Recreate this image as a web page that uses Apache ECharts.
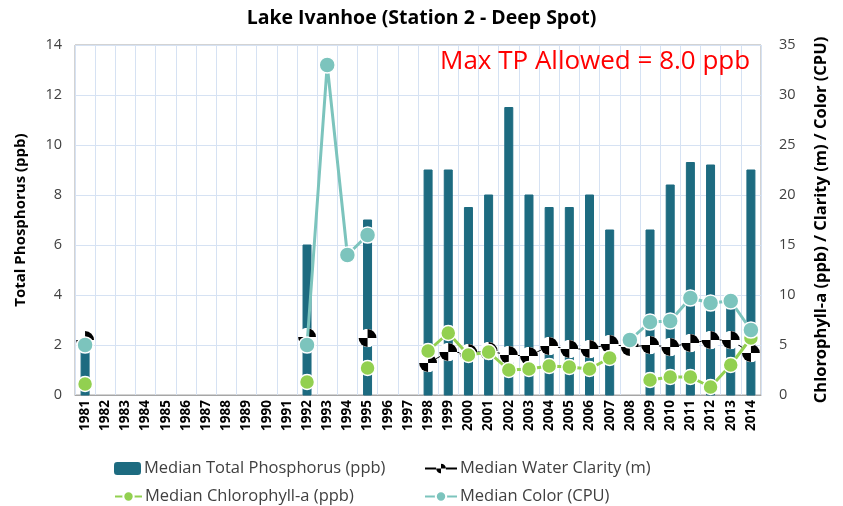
<!DOCTYPE html>
<html>
<head>
<meta charset="utf-8">
<script src="https://cdn.jsdelivr.net/npm/echarts@6/dist/echarts.min.js"></script>
<style>html,body{margin:0;padding:0;background:#fff}#c{width:843px;height:506px}</style>
</head>
<body>
<div id="c"></div>
<script>
var years = ['1981','1982','1983','1984','1985','1986','1987','1988','1989','1990','1991','1992','1993','1994','1995','1996','1997','1998','1999','2000','2001','2002','2003','2004','2005','2006','2007','2008','2009','2010','2011','2012','2013','2014'];
var tp = [2.0,null,null,null,null,null,null,null,null,null,null,6.0,null,null,7.0,null,null,9.0,9.0,7.5,8.0,11.5,8.0,7.5,7.5,8.0,6.6,null,6.6,8.4,9.3,9.2,3.8,9.0];
var clarity = [5.5,null,null,null,null,null,null,null,null,null,null,5.8,null,null,5.7,null,null,3.2,4.3,4.2,4.4,4.0,3.9,4.9,4.6,4.6,5.1,4.8,5.0,4.8,5.2,5.5,5.5,4.2];
var chl = [1.1,null,null,null,null,null,null,null,null,null,null,1.3,null,null,2.7,null,null,4.4,6.2,4.0,4.3,2.5,2.6,2.9,2.8,2.6,3.7,null,1.5,1.8,1.8,0.8,3.0,5.7];
var color = [5.0,null,null,null,null,null,null,null,null,null,null,5.0,33,14,16,null,null,null,null,null,null,null,null,null,null,null,null,5.5,7.3,7.4,9.7,9.2,9.4,6.5];
var leftTicks = {min:0, max:14, interval:2};
var rightTicks = {min:0, max:35, interval:5};

var FONT = '"Open Sans", "Noto Sans", sans-serif';
var svg = "<svg xmlns='http://www.w3.org/2000/svg' width='32' height='32'><circle cx='16' cy='16' r='15.5' fill='white'/><path d='M16 16 L16 1 A15 15 0 0 1 31 16 Z' fill='black'/><path d='M16 16 L16 31 A15 15 0 0 1 1 16 Z' fill='black'/></svg>";
var claritySym = 'image://data:image/svg+xml;charset=utf-8,' + encodeURIComponent(svg);

var chart = echarts.init(document.getElementById('c'), null, {renderer:'canvas'});
var legendText = {fontFamily: FONT, fontSize: 16.5, color: '#404040', padding: [0,0,0,-2]};
chart.setOption({
  animation: false,
  textStyle: {fontFamily: FONT},
  title: {text: 'Lake Ivanhoe (Station 2 - Deep Spot)', left: 'center', top: 3,
    textStyle: {fontFamily: FONT, fontSize: 19.5, fontWeight: 'bold', color: '#000'}},
  graphic: [{type:'text', left: 440, top: 49, z: 100, zlevel: 1, style: {text: 'Max TP Allowed = 8.0 ppb', fill: '#FF0000', font: '26px ' + FONT}}],
  legend: [
    {data:['Median Total Phosphorus (ppb)'], left: 109, top: 455, itemWidth: 27, itemHeight: 13, textStyle: legendText},
    {data:['Median Water Clarity (m)'], left: 419, top: 455, itemWidth: 32, itemHeight: 13, textStyle: legendText},
    {data:['Median Chlorophyll-a (ppb)'], left: 109, top: 483, itemWidth: 27, itemHeight: 13, textStyle: legendText},
    {data:['Median Color (CPU)'], left: 419, top: 483, itemWidth: 32, itemHeight: 13, textStyle: legendText}
  ],
  grid: {left: 75, right: 82, top: 45, bottom: 111, show: true, borderColor: '#A6A6A6', borderWidth: 1, containLabel: false},
  xAxis: {type: 'category', data: years, boundaryGap: true,
    axisLine: {lineStyle: {color: '#A6A6A6'}},
    axisTick: {show: false},
    splitLine: {show: true, lineStyle: {color: '#D6E2F3', width: 1}},
    axisLabel: {rotate: 90, interval: 0, fontFamily: FONT, fontSize: 13.5, fontWeight: 'bold', color: '#000', margin: 5}
  },
  yAxis: [
    {type: 'value', min: leftTicks.min, max: leftTicks.max, interval: leftTicks.interval,
      name: 'Total Phosphorus (ppb)', nameLocation: 'middle', nameGap: 47,
      nameTextStyle: {fontFamily: FONT, fontSize: 15, fontWeight: 'bold', color: '#000'},
      axisLine: {show: false}, axisTick: {show: false},
      splitLine: {show: true, lineStyle: {color: '#D6E2F3'}},
      axisLabel: {fontFamily: FONT, fontSize: 14.5, color: '#404040', margin: 13}},
    {type: 'value', min: rightTicks.min, max: rightTicks.max, interval: rightTicks.interval,
      name: 'Chlorophyll-a (ppb) / Clarity (m) / Color (CPU)', nameLocation: 'middle', nameGap: 52, nameRotate: 90,
      nameTextStyle: {fontFamily: FONT, fontSize: 16.5, fontWeight: 'bold', color: '#000'},
      axisLine: {show: false}, axisTick: {show: false}, splitLine: {show: false},
      axisLabel: {fontFamily: FONT, fontSize: 14.5, color: '#404040', margin: 18}}
  ],
  series: [
    {name: 'Median Total Phosphorus (ppb)', type: 'bar', data: tp, yAxisIndex: 0, barWidth: 8,
      itemStyle: {color: '#1D6B80', borderColor: '#1D6B80'}, z: 2},
    {name: 'Median Water Clarity (m)', type: 'line', data: clarity, yAxisIndex: 1, connectNulls: false,
      symbol: claritySym, symbolSize: 19, showAllSymbol: true,
      lineStyle: {color: '#000', width: 1, shadowColor: '#fff', shadowBlur: 4},
      itemStyle: {color: '#000'}, z: 3},
    {name: 'Median Chlorophyll-a (ppb)', type: 'line', data: chl, yAxisIndex: 1, connectNulls: false,
      symbol: 'circle', symbolSize: 15, showAllSymbol: true,
      lineStyle: {color: '#92D050', width: 3},
      itemStyle: {color: '#92D050', borderColor: '#fff', borderWidth: 1.5}, z: 4},
    {name: 'Median Color (CPU)', type: 'line', data: color, yAxisIndex: 1, connectNulls: false,
      symbol: 'circle', symbolSize: 16, showAllSymbol: true,
      lineStyle: {color: '#7CC4BD', width: 3},
      itemStyle: {color: '#7CC4BD', borderColor: '#fff', borderWidth: 1.5}, z: 5}
  ]
});
</script>
</body>
</html>
